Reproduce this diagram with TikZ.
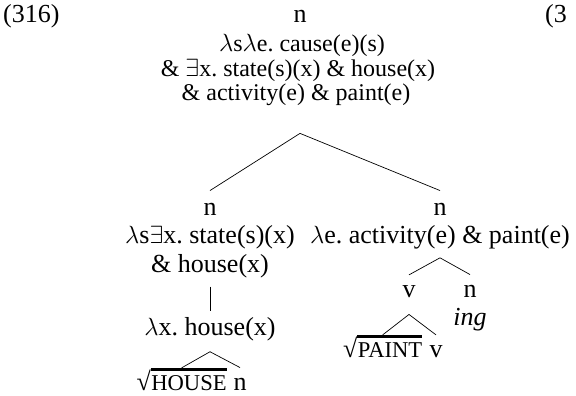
\documentclass[tikz,border=0pt]{standalone}
\usepackage{fontspec}
\setmainfont{Liberation Serif}
\usetikzlibrary{calc}
\frenchspacing
\begin{document}
\begin{tikzpicture}[x=1pt,y=-1pt,
  lbl/.style={inner sep=0pt, font=\fontsize{26}{26}\selectfont, anchor=base},
  rootlbl/.style={lbl, font=\fontsize{24}{24}\selectfont},
  sc/.style={lbl, font=\fontsize{22.6}{24}\selectfont},
  br/.style={line width=0.7pt},
  bar/.style={line width=2.6pt}]
\useasboundingbox (0,0) rectangle (576,396);
% example numbers
\node[lbl, anchor=base west] (ex) at (3,23) {(316)};
\node[lbl, anchor=base west] (exr) at (545,23) {(3};
% root
\node[lbl] (r) at (300,23) {n};
\node[rootlbl] (r1) at (302,52) {$\lambda$s$\lambda$e. cause(e)(s)};
\node[rootlbl] (r2) at (298,77) {\& $\exists$x. state(s)(x) \& house(x)};
\node[rootlbl] (r3) at (296,101) {\& activity(e) \& paint(e)};
% left daughter
\node[lbl] (ln) at (210,215) {n};
\node[lbl] (l1) at (210,243) {$\lambda$s$\exists$x. state(s)(x)};
\node[lbl] (l2) at (210,272) {\& house(x)};
\node[lbl] (l3) at (210,335) {$\lambda$x. house(x)};
\node[sc] (hw) at (189,390) {HOUSE};
\node[lbl, anchor=base east] (hs) at (hw.base west) {√};
\node[lbl] (hn) at (240,390) {n};
% right daughter
\node[lbl] (rn) at (440,215) {n};
\node[lbl] (rl1) at (440,243) {$\lambda$e. activity(e) \& paint(e)};
\node[lbl] (v) at (409,297) {v};
\node[lbl] (n2) at (470,297) {n};
\node[lbl, font=\fontsize{26}{26}\selectfont\itshape] (ing) at (470,325) {ing};
\node[sc] (pw) at (390,357) {PAINT};
\node[lbl, anchor=base east] (ps) at (pw.base west) {√};
\node[lbl] (v2) at (436,357) {v};
% branches
\draw[br] ([xshift=4pt,yshift=-27pt]r3.south) -- ([yshift=12pt]ln.north);
\draw[br] ([xshift=4pt,yshift=-27pt]r3.south) -- ([yshift=12pt]rn.north);
\draw[br] ([yshift=-9pt]l2.south) -- ([yshift=6pt]l3.north);
\draw[br] ([yshift=-11pt]l3.south) -- ($(hs.west |- hw.north)!0.5!(hw.north east)+(0,-7)$);
\draw[br] ([yshift=-11pt]l3.south) -- ([yshift=10pt]hn.north);
\draw[br] ([yshift=-9pt]rl1.south) -- ([yshift=10pt]v.north);
\draw[br] ([yshift=-9pt]rl1.south) -- ([yshift=10pt]n2.north);
\draw[br] ([yshift=-17pt]v.south) -- ($(ps.west |- pw.north)!0.5!(pw.north east)+(0,-7)$);
\draw[br] ([yshift=-17pt]v.south) -- ([yshift=10pt]v2.north);
% radical bars
\draw[bar] ([xshift=-0.6pt]hs.north east) -- (hs.north east -| hw.east);
\draw[bar] ([xshift=-0.6pt]ps.north east) -- (ps.north east -| pw.east);
\end{tikzpicture}
\end{document}
